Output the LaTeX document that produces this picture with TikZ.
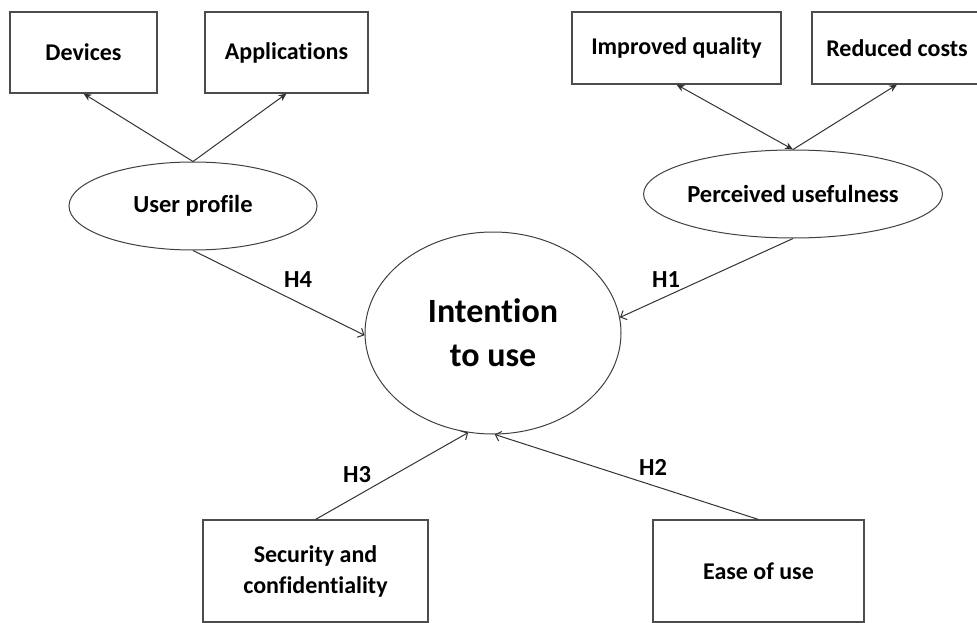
\documentclass[tikz,border=0pt]{standalone}
\usepackage{fontspec}
\setmainfont{Carlito}[Ligatures=NoCommon]
\usetikzlibrary{shapes.geometric,arrows.meta}
\begin{document}
\begin{tikzpicture}[x=1pt,y=-1pt,
  box/.style={draw=black!70,line width=1.1pt,rectangle,inner sep=0pt,align=center,
    font=\fontsize{24}{31}\selectfont\bfseries},
  oval/.style={draw=black!75,line width=1pt,ellipse,inner sep=0pt,align=center,
    font=\fontsize{24.5}{31}\selectfont\bfseries},
  fillarrow/.style={draw=black!80,line width=1pt,-{Stealth[length=8pt,width=7pt]}},
  bothfill/.style={draw=black!80,line width=1pt,{Stealth[length=8pt,width=7pt]}-{Stealth[length=8pt,width=7pt]}},
  openarrow/.style={draw=black!80,line width=1pt,-{Straight Barb[length=5pt,width=10pt]}},
  hlab/.style={font=\fontsize{24.5}{25}\selectfont\bfseries,inner sep=0pt}]
\useasboundingbox (0,0) rectangle (977,623);
\node[box,minimum width=147pt,minimum height=81pt] (dev) at (83.5,52.5) {Devices};
\node[box,minimum width=163pt,minimum height=81pt] (app) at (286.5,52.5) {Applications};
\node[box,minimum width=209pt,minimum height=72pt] (iq) at (676.5,48) {Improved quality};
\node[box,minimum width=170pt,minimum height=72pt] (rc) at (897,48) {Reduced costs};
\node[oval,minimum width=248pt,minimum height=88pt] (up) at (193,206) {User profile};
\node[oval,minimum width=280pt,minimum height=88pt] (pu) at (793,194) {Perceived usefulness};
\node[oval,minimum width=256pt,minimum height=202pt,font=\fontsize{34}{44}\selectfont\bfseries] (it) at (493,333) {Intention\\to use};
\node[box,minimum width=225pt,minimum height=102pt] (sec) at (315.5,571) {Security and\\confidentiality};
\node[box,minimum width=211pt,minimum height=102pt] (ease) at (758.5,571) {Ease of use};
\draw[fillarrow] (up.north) -- (dev.south);
\draw[fillarrow] (up.north) -- (app.south);
\draw[bothfill] (iq.south) -- (pu.north);
\draw[fillarrow] (pu.north) -- (rc.south);
\draw[openarrow] (pu.south) -- (it.7);
\draw[openarrow] (up.south) -- (it.181);
\draw[openarrow] (sec.north) -- (it.256);
\draw[openarrow] (ease.north) -- (it.271);
\node[hlab] (h4) at (298,280) {H4};
\node[hlab] (h1) at (666,280) {H1};
\node[hlab] (h3) at (357,475) {H3};
\node[hlab] (h2) at (653,467) {H2};
\end{tikzpicture}
\end{document}
